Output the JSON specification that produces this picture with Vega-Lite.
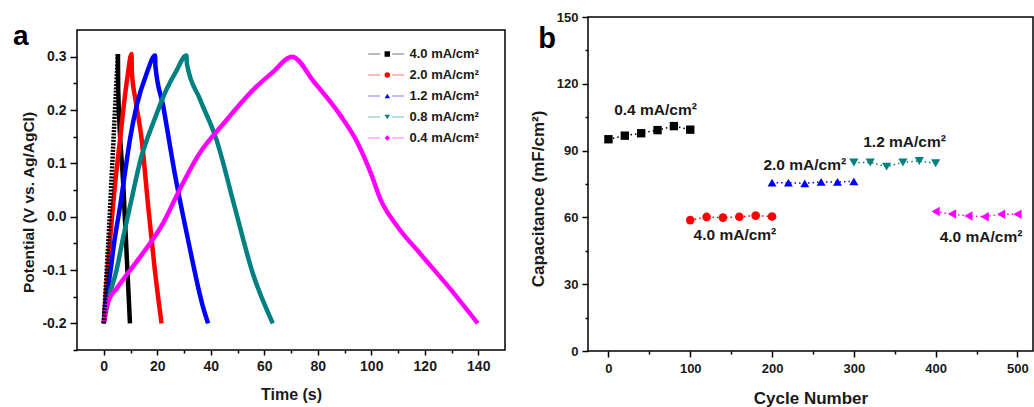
{
  "$schema": "https://vega.github.io/schema/vega-lite/v6.json",
  "background": "white",
  "padding": {"left": 12, "top": 10, "right": 0, "bottom": 0},
  "spacing": 22,
  "config": {
    "view": {"stroke": "#000000", "strokeWidth": 1.5},
    "font": "Liberation Sans",
    "axis": {
      "grid": false,
      "domain": false,
      "tickColor": "#000000",
      "tickWidth": 1.5,
      "labelFont": "Liberation Sans",
      "labelFontWeight": "bold",
      "labelColor": "#1a1a1a",
      "titleFont": "Liberation Sans",
      "titleFontWeight": "bold",
      "titleColor": "#1a1a1a"
    }
  },
  "resolve": {"scale": {"shape": "independent", "color": "independent", "fill": "independent", "stroke": "independent", "size": "independent"}},
  "datasets": {
    "gcd": [
      {"s": "4.0 mA/cm²", "t": 0, "v": -0.2},
      {"s": "4.0 mA/cm²", "t": 1, "v": -0.11},
      {"s": "4.0 mA/cm²", "t": 2, "v": -0.02},
      {"s": "4.0 mA/cm²", "t": 3, "v": 0.08},
      {"s": "4.0 mA/cm²", "t": 4, "v": 0.18},
      {"s": "4.0 mA/cm²", "t": 5.3, "v": 0.305},
      {"s": "4.0 mA/cm²", "t": 5.4, "v": 0.24},
      {"s": "4.0 mA/cm²", "t": 7.3, "v": 0.06},
      {"s": "4.0 mA/cm²", "t": 9.8, "v": -0.2},
      {"s": "2.0 mA/cm²", "t": 0, "v": -0.2},
      {"s": "2.0 mA/cm²", "t": 1, "v": -0.13},
      {"s": "2.0 mA/cm²", "t": 2.4, "v": -0.04},
      {"s": "2.0 mA/cm²", "t": 4, "v": 0.05},
      {"s": "2.0 mA/cm²", "t": 6.1, "v": 0.145},
      {"s": "2.0 mA/cm²", "t": 7.3, "v": 0.2},
      {"s": "2.0 mA/cm²", "t": 8.8, "v": 0.26},
      {"s": "2.0 mA/cm²", "t": 10.4, "v": 0.305},
      {"s": "2.0 mA/cm²", "t": 10.5, "v": 0.272},
      {"s": "2.0 mA/cm²", "t": 12, "v": 0.215},
      {"s": "2.0 mA/cm²", "t": 14.1, "v": 0.148},
      {"s": "2.0 mA/cm²", "t": 16.6, "v": 0.02},
      {"s": "2.0 mA/cm²", "t": 19.1, "v": -0.1},
      {"s": "2.0 mA/cm²", "t": 21.6, "v": -0.2},
      {"s": "1.2 mA/cm²", "t": 0, "v": -0.2},
      {"s": "1.2 mA/cm²", "t": 1, "v": -0.155},
      {"s": "1.2 mA/cm²", "t": 2.4, "v": -0.106},
      {"s": "1.2 mA/cm²", "t": 4, "v": -0.045},
      {"s": "1.2 mA/cm²", "t": 6.1, "v": 0.019},
      {"s": "1.2 mA/cm²", "t": 8, "v": 0.085},
      {"s": "1.2 mA/cm²", "t": 9.8, "v": 0.145},
      {"s": "1.2 mA/cm²", "t": 12.3, "v": 0.208},
      {"s": "1.2 mA/cm²", "t": 16, "v": 0.268},
      {"s": "1.2 mA/cm²", "t": 19.2, "v": 0.302},
      {"s": "1.2 mA/cm²", "t": 19.3, "v": 0.283},
      {"s": "1.2 mA/cm²", "t": 22.2, "v": 0.208},
      {"s": "1.2 mA/cm²", "t": 26.5, "v": 0.082},
      {"s": "1.2 mA/cm²", "t": 31.5, "v": -0.043},
      {"s": "1.2 mA/cm²", "t": 37.1, "v": -0.169},
      {"s": "1.2 mA/cm²", "t": 39, "v": -0.2},
      {"s": "0.8 mA/cm²", "t": 0, "v": -0.2},
      {"s": "0.8 mA/cm²", "t": 2, "v": -0.15},
      {"s": "0.8 mA/cm²", "t": 4.8, "v": -0.1},
      {"s": "0.8 mA/cm²", "t": 7, "v": -0.045},
      {"s": "0.8 mA/cm²", "t": 9.8, "v": 0.019},
      {"s": "0.8 mA/cm²", "t": 14.1, "v": 0.113},
      {"s": "0.8 mA/cm²", "t": 18.5, "v": 0.176},
      {"s": "0.8 mA/cm²", "t": 23.5, "v": 0.239},
      {"s": "0.8 mA/cm²", "t": 27, "v": 0.272},
      {"s": "0.8 mA/cm²", "t": 30.9, "v": 0.302},
      {"s": "0.8 mA/cm²", "t": 31.1, "v": 0.286},
      {"s": "0.8 mA/cm²", "t": 36, "v": 0.22},
      {"s": "0.8 mA/cm²", "t": 42.1, "v": 0.145},
      {"s": "0.8 mA/cm²", "t": 48.9, "v": 0.019},
      {"s": "0.8 mA/cm²", "t": 55.7, "v": -0.106},
      {"s": "0.8 mA/cm²", "t": 63.2, "v": -0.2},
      {"s": "0.4 mA/cm²", "t": 0, "v": -0.2},
      {"s": "0.4 mA/cm²", "t": 0.8, "v": -0.175},
      {"s": "0.4 mA/cm²", "t": 2, "v": -0.155},
      {"s": "0.4 mA/cm²", "t": 4.8, "v": -0.135},
      {"s": "0.4 mA/cm²", "t": 9, "v": -0.106},
      {"s": "0.4 mA/cm²", "t": 14.1, "v": -0.072},
      {"s": "0.4 mA/cm²", "t": 22.2, "v": -0.012},
      {"s": "0.4 mA/cm²", "t": 28.4, "v": 0.051},
      {"s": "0.4 mA/cm²", "t": 35.2, "v": 0.114},
      {"s": "0.4 mA/cm²", "t": 45.2, "v": 0.177},
      {"s": "0.4 mA/cm²", "t": 56.3, "v": 0.24},
      {"s": "0.4 mA/cm²", "t": 63, "v": 0.27},
      {"s": "0.4 mA/cm²", "t": 70.4, "v": 0.3},
      {"s": "0.4 mA/cm²", "t": 78.7, "v": 0.252},
      {"s": "0.4 mA/cm²", "t": 88.6, "v": 0.189},
      {"s": "0.4 mA/cm²", "t": 94.8, "v": 0.139},
      {"s": "0.4 mA/cm²", "t": 99.8, "v": 0.082},
      {"s": "0.4 mA/cm²", "t": 103.5, "v": 0.032},
      {"s": "0.4 mA/cm²", "t": 109.7, "v": -0.018},
      {"s": "0.4 mA/cm²", "t": 118.4, "v": -0.07},
      {"s": "0.4 mA/cm²", "t": 128.3, "v": -0.128},
      {"s": "0.4 mA/cm²", "t": 139.8, "v": -0.2}
    ],
    "cyc": [
      {"seg": "A", "n": 0, "c": 95.1},
      {"seg": "A", "n": 20, "c": 96.7},
      {"seg": "A", "n": 40, "c": 97.8},
      {"seg": "A", "n": 60, "c": 99.2},
      {"seg": "A", "n": 80, "c": 101.0},
      {"seg": "A", "n": 100, "c": 99.4},
      {"seg": "B", "n": 100, "c": 58.8},
      {"seg": "B", "n": 120, "c": 60.2},
      {"seg": "B", "n": 140, "c": 59.9},
      {"seg": "B", "n": 160, "c": 60.3},
      {"seg": "B", "n": 180, "c": 60.8},
      {"seg": "B", "n": 200, "c": 60.4},
      {"seg": "C", "n": 200, "c": 75.6},
      {"seg": "C", "n": 220, "c": 75.6},
      {"seg": "C", "n": 240, "c": 75.3},
      {"seg": "C", "n": 260, "c": 75.9},
      {"seg": "C", "n": 280, "c": 75.9},
      {"seg": "C", "n": 300, "c": 76.2},
      {"seg": "D", "n": 300, "c": 84.7},
      {"seg": "D", "n": 320, "c": 84.7},
      {"seg": "D", "n": 340, "c": 82.8},
      {"seg": "D", "n": 360, "c": 84.7},
      {"seg": "D", "n": 380, "c": 85.3},
      {"seg": "D", "n": 400, "c": 84.3},
      {"seg": "E", "n": 400, "c": 62.6},
      {"seg": "E", "n": 420, "c": 61.5},
      {"seg": "E", "n": 440, "c": 60.6},
      {"seg": "E", "n": 460, "c": 60.3},
      {"seg": "E", "n": 480, "c": 61.4},
      {"seg": "E", "n": 500, "c": 61.4}
    ],
    "ann": [
      {"label": "0.4 mA/cm²", "n": 57.5, "c": 106.0},
      {"label": "2.0 mA/cm²", "n": 240, "c": 81.3},
      {"label": "1.2 mA/cm²", "n": 362, "c": 91.7},
      {"label": "4.0 mA/cm²", "n": 154.6, "c": 49.8},
      {"label": "4.0 mA/cm²", "n": 455.4, "c": 48.8}
    ]
  },
  "hconcat": [
    {
      "bounds": "flush",
      "spacing": 12,
      "vconcat": [
        {
          "width": 428,
          "height": 1,
          "view": {"stroke": null},
          "data": {"values": [{}]},
          "mark": {"type": "text", "text": ""}
        },
        {
          "width": 428,
          "height": 320,
          "resolve": {"axis": {"x": "independent", "y": "independent"}},
          "layer": [
            {
              "data": {"name": "gcd"},
              "transform": [{"filter": "datum.s != '4.0 mA/cm²' || datum.t >= 5.3"}],
              "mark": {"type": "line", "strokeWidth": 4.5, "strokeJoin": "round", "interpolate": "monotone"},
              "encoding": {
                "x": {
                  "field": "t", "type": "quantitative",
                  "scale": {"domain": [-10, 150], "nice": false, "zero": false},
                  "axis": {
                    "orient": "bottom",
                    "title": "Time (s)", "titleFontSize": 16, "titlePadding": 13,
                    "values": [0, 20, 40, 60, 80, 100, 120, 140],
                    "tickSize": 5, "labelFontSize": 14, "labelPadding": 4
                  }
                },
                "y": {
                  "field": "v", "type": "quantitative",
                  "scale": {"domain": [-0.25, 0.35], "nice": false, "zero": false},
                  "axis": {
                    "orient": "left",
                    "title": "Potential (V vs. Ag/AgCl)", "titleFontSize": 15.5, "titlePadding": 5, "titleY": 172,
                    "values": [-0.2, -0.1, 0, 0.1, 0.2, 0.3],
                    "format": ".1f",
                    "labelExpr": "replace(datum.label, '−', '-')",
                    "tickSize": 7, "labelFontSize": 14, "labelPadding": 4
                  }
                },
                "stroke": {
                  "field": "s", "type": "nominal",
                  "scale": {
                    "domain": ["4.0 mA/cm²", "2.0 mA/cm²", "1.2 mA/cm²", "0.8 mA/cm²", "0.4 mA/cm²"],
                    "range": ["#000000", "#ff0000", "#0000ff", "#008080", "#ff00ff"]
                  },
                  "legend": {
                    "orient": "none", "legendX": 302.75, "legendY": 30.5, "title": null, "padding": 0,
                    "symbolType": "M-6,0H-2M2,0H6", "symbolSize": 36, "symbolStrokeWidth": 1.5,
                    "symbolOpacity": 0.35, "symbolFillColor": "transparent",
                    "labelFont": "Liberation Sans", "labelFontSize": 13, "labelFontWeight": "bold",
                    "labelColor": "#1a1a1a", "labelOffset": 16.75, "rowPadding": 7
                  }
                }
              }
            },
            {
              "data": {"name": "gcd"},
              "transform": [{"filter": "datum.s == '4.0 mA/cm²' && datum.t <= 5.3"}],
              "mark": {"type": "line", "strokeWidth": 4.5, "color": "#000000", "strokeDash": [2, 1.3], "interpolate": "monotone"},
              "encoding": {
                "x": {"field": "t", "type": "quantitative", "axis": null},
                "y": {"field": "v", "type": "quantitative", "axis": null}
              }
            },
            {
              "data": {"name": "gcd"},
              "transform": [{"filter": "datum.t < -1000"}],
              "mark": {"type": "point", "filled": true},
              "encoding": {
                "x": {
                  "field": "t", "type": "quantitative",
                  "axis": {"orient": "bottom", "values": [10, 30, 50, 70, 90, 110, 130], "labels": false, "tickSize": 3, "title": null}
                },
                "y": {
                  "field": "v", "type": "quantitative",
                  "axis": {"orient": "left", "values": [-0.25, -0.15, -0.05, 0.05, 0.15, 0.25], "labels": false, "tickSize": 4, "title": null}
                },
                "fill": {
                  "field": "s", "type": "nominal",
                  "scale": {
                    "domain": ["k1", "k2", "k3", "k4", "k5"],
                    "range": ["#000000", "#ff0000", "#0000ff", "#008080", "#ff00ff"]
                  },
                  "legend": {
                    "orient": "none", "legendX": 303.8, "legendY": 30.5, "title": null, "padding": 0,
                    "symbolSize": 30, "symbolStrokeWidth": 0, "symbolOpacity": 1,
                    "labelFontSize": 13, "labelOpacity": 0, "labelOffset": 0, "rowPadding": 7
                  }
                },
                "shape": {
                  "field": "s", "type": "nominal",
                  "scale": {
                    "domain": ["k1", "k2", "k3", "k4", "k5"],
                    "range": ["square", "circle", "triangle-up", "triangle-down", "diamond"]
                  },
                  "legend": {
                    "orient": "none", "legendX": 303.8, "legendY": 30.5, "title": null, "padding": 0,
                    "symbolSize": 30, "symbolStrokeWidth": 0, "symbolOpacity": 1,
                    "labelFontSize": 13, "labelOpacity": 0, "labelOffset": 0, "rowPadding": 7
                  }
                }
              }
            },
            {
              "data": {"values": [{}]},
              "mark": {"type": "text", "text": "a", "fontSize": 28, "fontWeight": "bold", "align": "center", "baseline": "alphabetic", "color": "#000000"},
              "encoding": {
                "x": {"datum": -31, "axis": null},
                "y": {"datum": 0.3225, "axis": null}
              }
            }
          ]
        }
      ]
    },
    {
      "width": 445,
      "height": 334,
      "resolve": {"axis": {"x": "independent", "y": "independent"}},
      "layer": [
        {
          "data": {"name": "cyc"},
          "mark": {"type": "line", "strokeDash": [1.5, 3], "strokeWidth": 1.5},
          "encoding": {
            "x": {
              "field": "n", "type": "quantitative",
              "scale": {"domain": [-25, 519], "nice": false, "zero": false},
              "axis": {
                "orient": "bottom",
                "title": "Cycle Number", "titleFontSize": 17, "titlePadding": 15,
                "values": [0, 100, 200, 300, 400, 500],
                "tickSize": 6, "labelFontSize": 13, "labelPadding": 5
              }
            },
            "y": {
              "field": "c", "type": "quantitative",
              "scale": {"domain": [0, 150], "nice": false, "zero": false},
              "axis": {
                "orient": "left",
                "title": "Capacitance (mF/cm²)", "titleFontSize": 17, "titlePadding": 9, "titleY": 181.5,
                "values": [0, 30, 60, 90, 120, 150],
                "tickSize": 6, "labelFontSize": 13, "labelPadding": 4
              }
            },
            "color": {
              "field": "seg", "type": "nominal",
              "scale": {"domain": ["A", "B", "C", "D", "E"], "range": ["#000000", "#ff0000", "#0000ff", "#008080", "#ff00ff"]},
              "legend": null
            }
          }
        },
        {
          "data": {"name": "cyc"},
          "mark": {"type": "point", "filled": true, "opacity": 1},
          "encoding": {
            "x": {
              "field": "n", "type": "quantitative",
              "axis": {"orient": "bottom", "values": [50, 150, 250, 350, 450], "labels": false, "tickSize": 3, "title": null}
            },
            "y": {
              "field": "c", "type": "quantitative",
              "axis": {"orient": "left", "values": [15, 45, 75, 105, 135], "labels": false, "tickSize": 3, "title": null}
            },
            "color": {
              "field": "seg", "type": "nominal",
              "scale": {"domain": ["A", "B", "C", "D", "E"], "range": ["#000000", "#ff0000", "#0000ff", "#008080", "#ff00ff"]},
              "legend": null
            },
            "shape": {
              "field": "seg", "type": "nominal",
              "scale": {"domain": ["A", "B", "C", "D", "E"], "range": ["square", "circle", "triangle-up", "triangle-down", "triangle-left"]},
              "legend": null
            },
            "size": {
              "field": "seg", "type": "nominal",
              "scale": {"domain": ["A", "B", "C", "D", "E"], "range": [70, 90, 110, 110, 120]},
              "legend": null
            }
          }
        },
        {
          "data": {"name": "ann"},
          "mark": {"type": "text", "fontSize": 15.5, "fontWeight": "bold", "align": "center", "baseline": "alphabetic", "color": "#1a1a1a"},
          "encoding": {
            "x": {"field": "n", "type": "quantitative", "axis": null},
            "y": {"field": "c", "type": "quantitative", "axis": null},
            "text": {"field": "label"}
          }
        },
        {
          "data": {"values": [{}]},
          "mark": {"type": "text", "text": "b", "fontSize": 29, "fontWeight": "bold", "align": "center", "baseline": "alphabetic", "color": "#000000"},
          "encoding": {
            "x": {"datum": -75, "axis": null},
            "y": {"datum": 136, "axis": null}
          }
        }
      ]
    }
  ]
}
